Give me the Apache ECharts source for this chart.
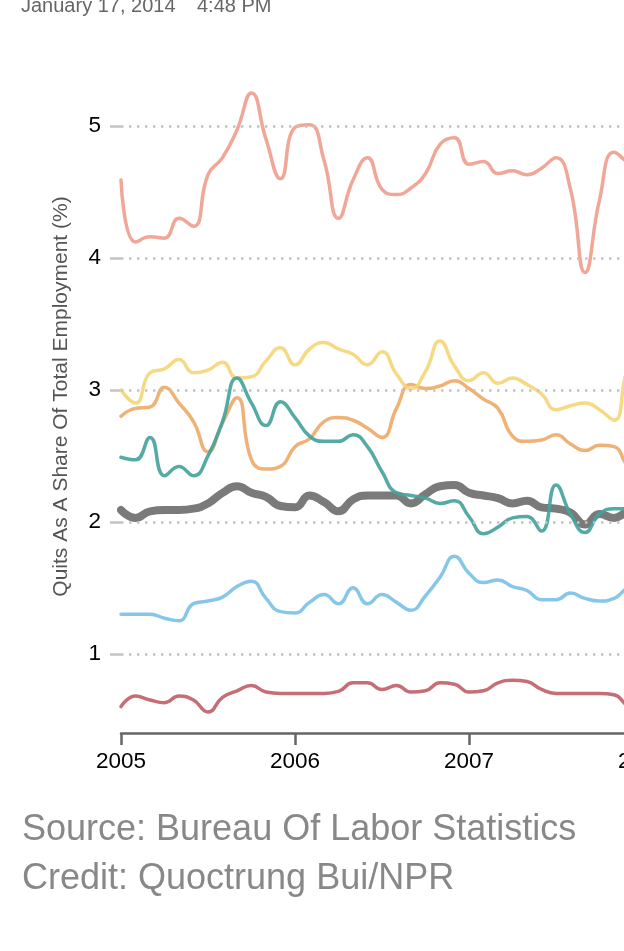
<!DOCTYPE html>
<html>
<head>
<meta charset="utf-8">
<script src="https://cdn.jsdelivr.net/npm/echarts@6/dist/echarts.min.js"></script>
<style>
html,body{margin:0;padding:0;background:#fff;}
#c{width:624px;height:951px;}
</style>
</head>
<body>
<div id="c"></div>
<script>
// Monthly data, January 2005 onward
const startYear = 2005;
const xTickLabels = ['2005', '2006', '2007', '2008'];
const yTickValues = [1, 2, 3, 4, 5];

const salmon = [4.59,4.12,4.16,4.15,4.30,4.24,4.63,4.76,4.97,5.25,4.90,4.60,4.99,5.01,4.74,4.30,4.59,4.76,4.52,4.48,4.53,4.64,4.86,4.91,4.71,4.73,4.64,4.66,4.63,4.68,4.76,4.52,3.89,4.44,4.80,4.72,4.65];
const yellow = [3.00,2.90,3.13,3.16,3.23,3.13,3.15,3.21,3.09,3.10,3.22,3.32,3.19,3.31,3.36,3.31,3.27,3.19,3.29,3.12,3.01,3.14,3.37,3.18,3.07,3.13,3.05,3.09,3.04,2.97,2.85,2.88,2.90,2.85,2.77,3.18,3.30];
const orange = [2.80,2.86,2.87,3.02,2.90,2.76,2.53,2.75,2.94,2.47,2.40,2.42,2.57,2.63,2.76,2.79,2.77,2.71,2.64,2.86,3.04,3.01,3.03,3.07,3.01,2.93,2.86,2.65,2.61,2.62,2.66,2.59,2.54,2.58,2.57,2.42,2.38];
const teal = [2.49,2.47,2.64,2.35,2.42,2.35,2.50,2.76,3.09,2.90,2.73,2.91,2.79,2.65,2.61,2.61,2.66,2.57,2.38,2.22,2.20,2.18,2.14,2.16,2.04,1.91,1.96,2.03,2.04,1.93,2.28,2.06,1.92,2.06,2.10,2.10,2.10];
const total = [2.09,2.03,2.08,2.09,2.09,2.10,2.14,2.22,2.27,2.22,2.19,2.12,2.11,2.20,2.15,2.08,2.17,2.20,2.20,2.20,2.14,2.21,2.27,2.28,2.22,2.20,2.18,2.14,2.16,2.11,2.10,2.07,1.98,2.06,2.03,2.07,2.07];
const blue = [1.30,1.30,1.30,1.27,1.25,1.38,1.40,1.43,1.51,1.55,1.42,1.32,1.31,1.39,1.45,1.38,1.50,1.38,1.45,1.39,1.33,1.44,1.58,1.74,1.61,1.54,1.56,1.51,1.48,1.41,1.41,1.46,1.42,1.40,1.42,1.50,1.52];
const red = [0.60,0.68,0.65,0.63,0.68,0.65,0.56,0.67,0.72,0.76,0.71,0.70,0.70,0.70,0.70,0.715,0.78,0.78,0.73,0.76,0.71,0.72,0.78,0.77,0.71,0.72,0.78,0.80,0.79,0.73,0.70,0.70,0.70,0.70,0.69,0.60,0.56];

function pts(arr){ return arr.map((v,i)=>[startYear + i/12, v]); }

const FONT = "'Liberation Sans', Arial, Helvetica, sans-serif";

function line(name, arr, color, width, z){
  return {
    name, type:'line', data: pts(arr), smooth: 0.5, symbol:'none', z: z,
    lineStyle:{color, width, opacity:0.92, cap:'round', join:'round'},
    emphasis:{disabled:true}, silent:true
  };
}

const chart = echarts.init(document.getElementById('c'), null, {renderer:'canvas'});
const totalSeries = line('Total', total, '#6f6f6f', 8, 2);
totalSeries.markLine = {
  silent:true, symbol:['none','none'], label:{show:false}, animation:false,
  lineStyle:{type:[2.5,5.5], color:'#c4c4c4', width:2.5},
  data: yTickValues.map(v=>({yAxis:v}))
};

chart.setOption({
  animation:false,
  grid:{left:121, right:-19, top:60, bottom:218, containLabel:false, outerBoundsMode:'none'},
  xAxis:{
    type:'value', min:2005, max:2008, interval:1,
    axisLine:{show:true, lineStyle:{color:'#666', width:2.5}},
    axisTick:{show:true, length:12, lineStyle:{color:'#666', width:2.5}},
    axisLabel:{color:'#000', fontSize:22.5, fontFamily:FONT, margin:17,
      formatter:(v)=>xTickLabels[Math.round(v-2005)] || ''},
    splitLine:{show:false}
  },
  yAxis:{
    type:'value', min:0.4, max:5.5,
    name:'Quits As A Share Of Total Employment (%)',
    nameLocation:'middle', nameGap:49,
    nameTextStyle:{color:'#555', fontSize:21, fontFamily:FONT},
    axisLine:{show:false},
    axisTick:{show:true, length:11, customValues:yTickValues, lineStyle:{color:'#c4c4c4', width:2.5}},
    axisLabel:{color:'#000', fontSize:22.5, fontFamily:FONT, margin:20, customValues:yTickValues},
    splitLine:{show:false}
  },
  series:[
    totalSeries,
    line('Red', red, '#c0626a', 3.5, 3),
    line('Blue', blue, '#7cc2e7', 3.5, 3),
    line('Orange', orange, '#efaa68', 3.5, 3),
    line('Yellow', yellow, '#f5d679', 3.5, 3),
    line('Salmon', salmon, '#f09f8e', 3.5, 3),
    line('Teal', teal, '#45a39c', 3.5, 4)
  ],
  graphic:[
    {type:'text', left:21, top:-4, style:{text:'January 17, 2014', font:"20px "+FONT, fill:'#666'}},
    {type:'text', left:197, top:-4, style:{text:'4:48 PM', font:"20px "+FONT, fill:'#666'}},
    {type:'text', left:22, top:812, style:{text:'Source: Bureau Of Labor Statistics', font:"36px "+FONT, fill:'#888'}},
    {type:'text', left:22, top:861, style:{text:'Credit: Quoctrung Bui/NPR', font:"36px "+FONT, fill:'#888'}}
  ]
});
</script>
</body>
</html>
